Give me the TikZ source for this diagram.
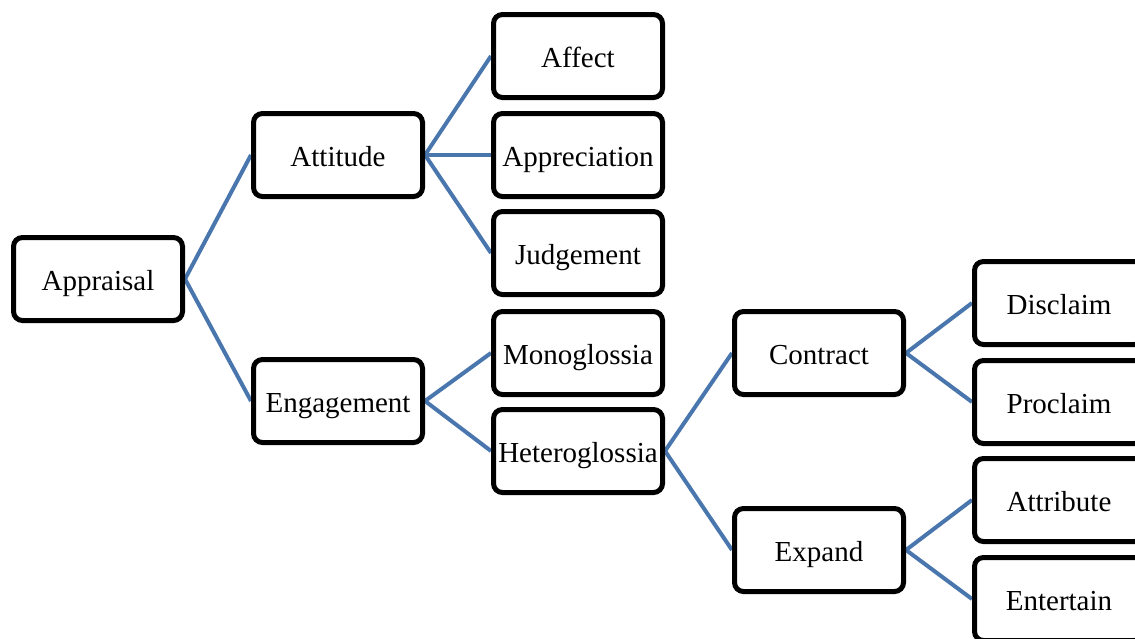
\documentclass[tikz,border=0pt]{standalone}
\usepackage{fontspec}
\setmainfont{Liberation Serif}
\usetikzlibrary{backgrounds}
\definecolor{linkblue}{RGB}{74,118,174}
\tikzset{
  box/.style={draw=black, fill=white, line width=5pt, rounded corners=9pt,
    minimum width=169pt, minimum height=83pt, inner sep=0pt,
    text height=27pt, text depth=5pt,
    font=\fontsize{29}{33}\selectfont},
  link/.style={draw=linkblue, line width=4pt}
}
\begin{document}
\begin{tikzpicture}[x=1pt, y=-1pt]
  \useasboundingbox (0,0) rectangle (1135,638);
  \clip (0,0) rectangle (1135,638);
  % tree nodes
  \node[box] (appraisal) at (98,279) {Appraisal};
  \node[box] (attitude) at (338,155) {Attitude};
  \node[box] (engagement) at (338,401) {Engagement};
  \node[box] (affect) at (578,56) {Affect};
  \node[box] (appreciation) at (578,155) {Appreciation};
  \node[box] (judgement) at (578,253) {Judgement};
  \node[box] (mono) at (578,353) {Monoglossia};
  \node[box] (hetero) at (578,451) {Heteroglossia};
  \node[box] (contract) at (819,353) {Contract};
  \node[box] (expand) at (819,550) {Expand};
  \node[box] (disclaim) at (1059,303) {Disclaim};
  \node[box] (proclaim) at (1059,402) {Proclaim};
  \node[box] (attribute) at (1059,500) {Attribute};
  \node[box] (entertain) at (1059,599) {Entertain};
  % connectors behind the boxes
  \begin{pgfonlayer}{background}
    \foreach \p/\c in {appraisal/attitude, appraisal/engagement,
        attitude/affect, attitude/appreciation, attitude/judgement,
        engagement/mono, engagement/hetero,
        hetero/contract, hetero/expand,
        contract/disclaim, contract/proclaim,
        expand/attribute, expand/entertain}
      \draw[link] (\p.east) -- (\c.west);
  \end{pgfonlayer}
\end{tikzpicture}
\end{document}
